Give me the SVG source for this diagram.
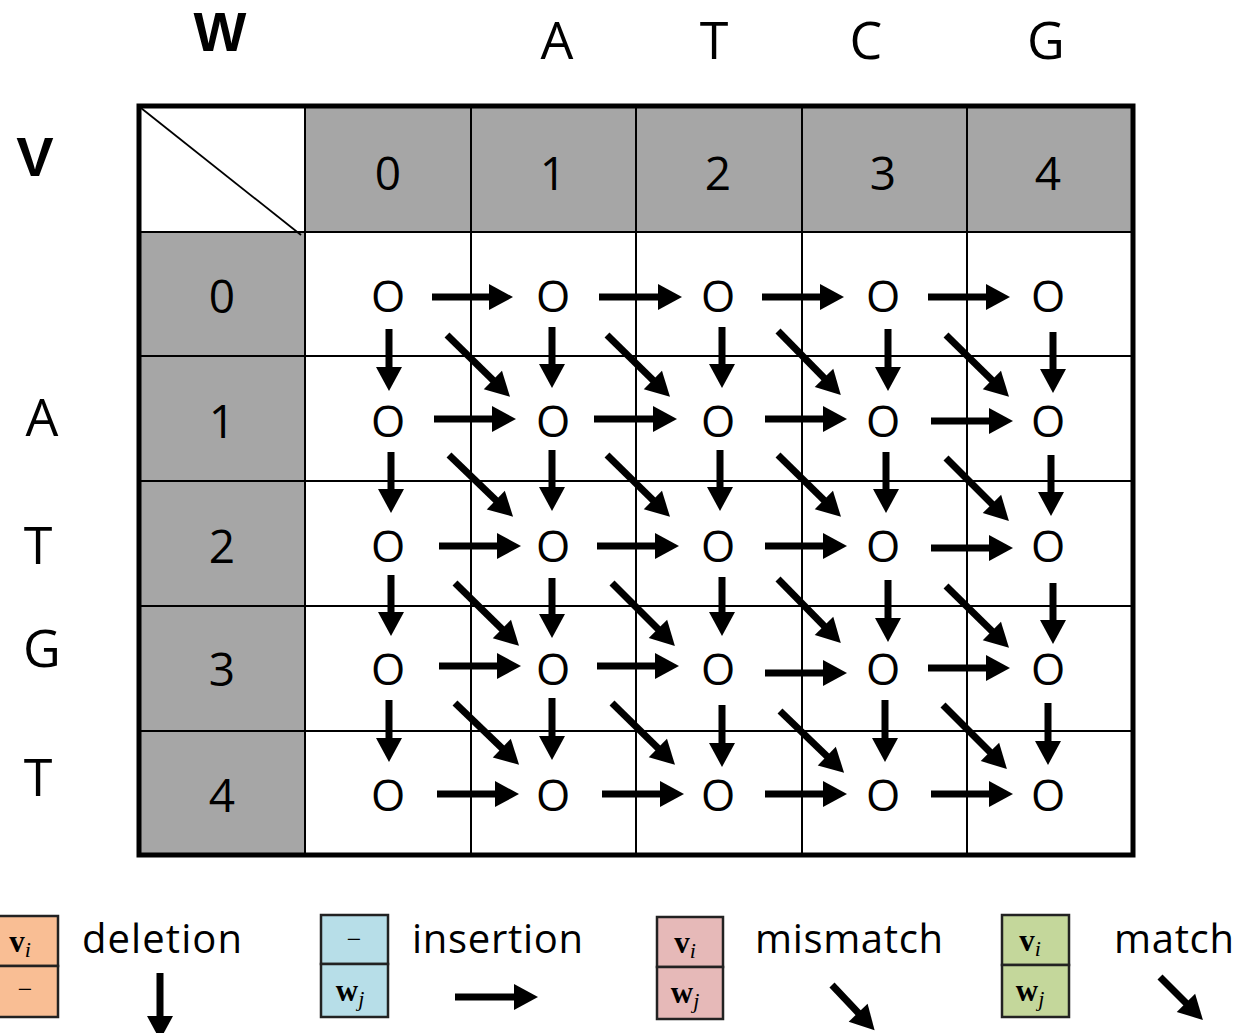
<svg xmlns="http://www.w3.org/2000/svg" width="1240" height="1033" viewBox="0 0 1240 1033">
<style>
.t{font-family:"Open Sans","Noto Sans","Liberation Sans",sans-serif;fill:#000;text-anchor:middle}
.hd{font-size:52px}
.bd{font-family:"Liberation Sans","Arial",sans-serif;font-size:56px;font-weight:bold}
.dg{font-size:46px}
.nd{font-size:44px}
.lg{font-size:40px;text-anchor:start}
.gl{stroke:#000;stroke-width:2;fill:none}
.ar{stroke:#000;stroke-width:7;fill:none;marker-end:url(#ah)}
.mv{font-family:"Liberation Serif","DejaVu Serif",serif;font-size:31px;font-weight:bold;text-anchor:middle}
.mi{font-family:"Liberation Serif","DejaVu Serif",serif;font-size:22px;font-style:italic;font-weight:normal}
.dash{font-family:"Liberation Serif","DejaVu Serif",serif;font-size:26px;text-anchor:middle}
.bx{stroke:#222;stroke-width:2.5}
</style>
<defs>
<marker id="ah" markerUnits="userSpaceOnUse" markerWidth="24" markerHeight="26" refX="10" refY="13" orient="auto" overflow="visible">
<path d="M0,0 L24,13 L0,26 z" fill="#000"/>
</marker>
</defs>
<rect width="1240" height="1033" fill="#fff"/>

<g id="axis-labels">
<text class="t bd" x="220" y="51">W</text>
<text class="t bd" x="35" y="176">V</text>
<text class="t hd" x="557" y="59">A</text>
<text class="t hd" x="714" y="59">T</text>
<text class="t hd" x="866" y="59">C</text>
<text class="t hd" x="1046" y="59">G</text>
<text class="t hd" x="42" y="436">A</text>
<text class="t hd" x="38" y="564">T</text>
<text class="t hd" x="42" y="667">G</text>
<text class="t hd" x="38" y="796">T</text>
</g>

<g id="table">
<rect x="305" y="106" width="828" height="126" fill="#A6A6A6"/>
<rect x="139" y="232" width="166" height="623" fill="#A6A6A6"/>
<path class="gl" d="M305,106V855 M471,106V855 M636,106V855 M802,106V855 M967,106V855 M139,232H1133 M139,356H1133 M139,481H1133 M139,606H1133 M139,731H1133"/>
<line x1="141" y1="108" x2="301" y2="235" stroke="#000" stroke-width="1.8"/>
<rect x="139" y="106" width="994" height="749" fill="none" stroke="#000" stroke-width="5"/>
<g class="t dg">
<text x="388" y="190">0</text>
<text x="553" y="190">1</text>
<text x="718" y="190">2</text>
<text x="883" y="190">3</text>
<text x="1048" y="190">4</text>
<text x="222" y="313">0</text>
<text x="222" y="438">1</text>
<text x="222" y="563">2</text>
<text x="222" y="686">3</text>
<text x="222" y="812">4</text>
</g>
</g>

<g id="nodes" class="t nd">
<g id="n00"><text x="388" y="312">O</text></g>
<g id="n01"><text x="553" y="312">O</text></g>
<g id="n02"><text x="718" y="312">O</text></g>
<g id="n03"><text x="883" y="312">O</text></g>
<g id="n04"><text x="1048" y="312">O</text></g>
<g id="n10"><text x="388" y="437">O</text></g>
<g id="n11"><text x="553" y="437">O</text></g>
<g id="n12"><text x="718" y="437">O</text></g>
<g id="n13"><text x="883" y="437">O</text></g>
<g id="n14"><text x="1048" y="437">O</text></g>
<g id="n20"><text x="388" y="562">O</text></g>
<g id="n21"><text x="553" y="562">O</text></g>
<g id="n22"><text x="718" y="562">O</text></g>
<g id="n23"><text x="883" y="562">O</text></g>
<g id="n24"><text x="1048" y="562">O</text></g>
<g id="n30"><text x="388" y="685">O</text></g>
<g id="n31"><text x="553" y="685">O</text></g>
<g id="n32"><text x="718" y="685">O</text></g>
<g id="n33"><text x="883" y="685">O</text></g>
<g id="n34"><text x="1048" y="685">O</text></g>
<g id="n40"><text x="388" y="811">O</text></g>
<g id="n41"><text x="553" y="811">O</text></g>
<g id="n42"><text x="718" y="811">O</text></g>
<g id="n43"><text x="883" y="811">O</text></g>
<g id="n44"><text x="1048" y="811">O</text></g>
</g>

<g id="connectors">
<line class="ar" x1="432" y1="297" x2="499" y2="297"/>
<line class="ar" x1="599" y1="297" x2="668" y2="297"/>
<line class="ar" x1="762" y1="297" x2="830" y2="297"/>
<line class="ar" x1="928" y1="297" x2="996" y2="297"/>
<line class="ar" x1="434" y1="419" x2="502" y2="419"/>
<line class="ar" x1="594" y1="419" x2="663" y2="419"/>
<line class="ar" x1="765" y1="419" x2="833" y2="419"/>
<line class="ar" x1="931" y1="421" x2="999" y2="421"/>
<line class="ar" x1="439" y1="546" x2="507" y2="546"/>
<line class="ar" x1="597" y1="546" x2="665" y2="546"/>
<line class="ar" x1="765" y1="546" x2="833" y2="546"/>
<line class="ar" x1="931" y1="548" x2="999" y2="548"/>
<line class="ar" x1="439" y1="666" x2="507" y2="666"/>
<line class="ar" x1="597" y1="666" x2="665" y2="666"/>
<line class="ar" x1="765" y1="673" x2="833" y2="673"/>
<line class="ar" x1="928" y1="668" x2="996" y2="668"/>
<line class="ar" x1="437" y1="794" x2="505" y2="794"/>
<line class="ar" x1="602" y1="794" x2="670" y2="794"/>
<line class="ar" x1="765" y1="794" x2="833" y2="794"/>
<line class="ar" x1="931" y1="794" x2="999" y2="794"/>

<line class="ar" x1="389" y1="329" x2="389" y2="377"/>
<line class="ar" x1="552" y1="327" x2="552" y2="374"/>
<line class="ar" x1="722" y1="327" x2="722" y2="374"/>
<line class="ar" x1="888" y1="329" x2="888" y2="377"/>
<line class="ar" x1="1053" y1="332" x2="1053" y2="379"/>
<line class="ar" x1="391" y1="452" x2="391" y2="499"/>
<line class="ar" x1="552" y1="450" x2="552" y2="497"/>
<line class="ar" x1="720" y1="450" x2="720" y2="497"/>
<line class="ar" x1="886" y1="452" x2="886" y2="499"/>
<line class="ar" x1="1051" y1="455" x2="1051" y2="502"/>
<line class="ar" x1="391" y1="575" x2="391" y2="622"/>
<line class="ar" x1="552" y1="578" x2="552" y2="624"/>
<line class="ar" x1="722" y1="577" x2="722" y2="622"/>
<line class="ar" x1="888" y1="580" x2="888" y2="628"/>
<line class="ar" x1="1053" y1="583" x2="1053" y2="630"/>
<line class="ar" x1="389" y1="700" x2="389" y2="748"/>
<line class="ar" x1="552" y1="698" x2="552" y2="746"/>
<line class="ar" x1="722" y1="705" x2="722" y2="753"/>
<line class="ar" x1="885" y1="700" x2="885" y2="748"/>
<line class="ar" x1="1048" y1="703" x2="1048" y2="751"/>

<line class="ar" x1="447" y1="335" x2="500" y2="387"/>
<line class="ar" x1="607" y1="335" x2="660" y2="387"/>
<line class="ar" x1="778" y1="331" x2="831" y2="385"/>
<line class="ar" x1="946" y1="335" x2="999" y2="387"/>
<line class="ar" x1="449" y1="455" x2="503" y2="507"/>
<line class="ar" x1="607" y1="455" x2="660" y2="507"/>
<line class="ar" x1="778" y1="455" x2="831" y2="507"/>
<line class="ar" x1="946" y1="458" x2="999" y2="511"/>
<line class="ar" x1="455" y1="583" x2="509" y2="636"/>
<line class="ar" x1="612" y1="583" x2="665" y2="636"/>
<line class="ar" x1="778" y1="579" x2="831" y2="633"/>
<line class="ar" x1="946" y1="586" x2="999" y2="638"/>
<line class="ar" x1="455" y1="703" x2="509" y2="755"/>
<line class="ar" x1="612" y1="703" x2="665" y2="755"/>
<line class="ar" x1="780" y1="711" x2="834" y2="763"/>
<line class="ar" x1="943" y1="705" x2="997" y2="759"/>
</g>

<g id="legend-deletion">
<rect class="bx" x="-7" y="916" width="65" height="50" fill="#F9BE94"/>
<rect class="bx" x="-7" y="966" width="65" height="51" fill="#F9BE94"/>
<text class="mv" x="20" y="952">v<tspan class="mi" dy="5">i</tspan></text>
<text class="dash" x="25" y="998">−</text>
<text class="t lg" x="82" y="953" textLength="160">deletion</text>
<line class="ar" x1="160" y1="973" x2="160" y2="1026"/>
</g>

<g id="legend-insertion">
<rect class="bx" x="321" y="915" width="67" height="49" fill="#B7DEE8"/>
<rect class="bx" x="321" y="964" width="67" height="53" fill="#B7DEE8"/>
<text class="dash" x="354" y="948">−</text>
<text class="mv" x="350" y="1001">w<tspan class="mi" dy="5">j</tspan></text>
<text class="t lg" x="412" y="953" textLength="171">insertion</text>
<line class="ar" x1="455" y1="997" x2="524" y2="997"/>
</g>

<g id="legend-mismatch">
<rect class="bx" x="657" y="917" width="66" height="50" fill="#E6B9B8"/>
<rect class="bx" x="657" y="967" width="66" height="52" fill="#E6B9B8"/>
<text class="mv" x="685" y="953">v<tspan class="mi" dy="5">i</tspan></text>
<text class="mv" x="685" y="1003">w<tspan class="mi" dy="5">j</tspan></text>
<text class="t lg" x="755" y="953" textLength="188">mismatch</text>
<line class="ar" x1="832" y1="985" x2="865" y2="1020"/>
</g>

<g id="legend-match">
<rect class="bx" x="1002" y="915" width="67" height="50" fill="#C4D79B"/>
<rect class="bx" x="1002" y="965" width="67" height="52" fill="#C4D79B"/>
<text class="mv" x="1030" y="951">v<tspan class="mi" dy="5">i</tspan></text>
<text class="mv" x="1030" y="1001">w<tspan class="mi" dy="5">j</tspan></text>
<text class="t lg" x="1114" y="953" textLength="120">match</text>
<line class="ar" x1="1160" y1="977" x2="1193" y2="1010"/>
</g>
</svg>
